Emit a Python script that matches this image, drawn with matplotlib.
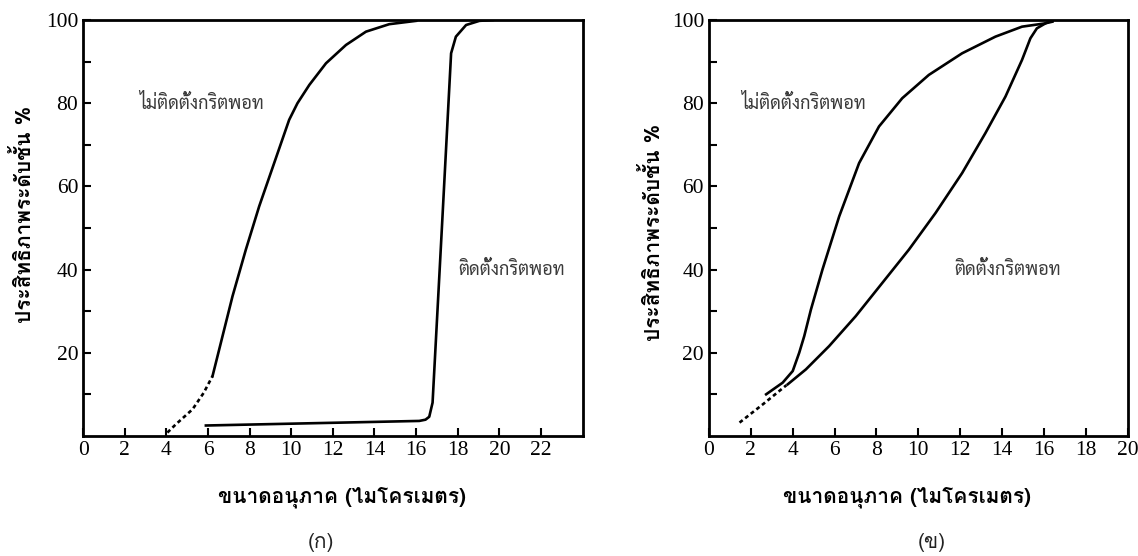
import matplotlib
matplotlib.use("Agg")
import matplotlib.pyplot as plt


# particle size (micrometre) vs grade efficiency (%)
# panel (ก)
a_nogrit_dash_x = [4.05, 4.46, 5.26, 5.8, 6.22]
a_nogrit_dash_y = [0.8, 2.8, 6.4, 10.4, 14.4]
a_nogrit_x = [6.22, 6.62, 7.18, 7.82, 8.46, 9.18, 9.90, 10.30, 10.87, 11.67,
              12.63, 13.59, 14.71, 16.0]
a_nogrit_y = [14.4, 22.4, 33.6, 44.8, 55.2, 65.6, 76.0, 80.0, 84.4, 89.6,
              94.0, 97.2, 99.0, 99.8]
a_grit_x = [5.9, 16.15, 16.45, 16.63, 16.79, 17.25, 17.68, 17.91, 18.4,
            19.04, 19.68]
a_grit_y = [2.5, 3.6, 3.9, 4.6, 8.0, 51.2, 92.0, 96.0, 98.8, 99.8, 100.0]

# panel (ข)
b_dash_x = [1.46, 2.6, 3.7]
b_dash_y = [3.2, 7.7, 12.2]
b_nogrit_x = [2.73, 3.52, 4.0, 4.31, 4.55, 4.87, 5.42, 6.22, 7.17, 8.12,
              9.23, 10.5, 12.09, 13.68, 14.95, 16.06, 16.4]
b_nogrit_y = [10.0, 12.8, 15.6, 20.0, 24.0, 30.4, 40.0, 52.8, 65.6, 74.4,
              81.2, 86.8, 92.0, 96.0, 98.4, 99.2, 99.6]
b_grit_x = [3.76, 4.63, 5.74, 7.01, 8.28, 9.55, 10.82, 12.09, 13.2, 14.16,
            14.95, 15.35, 15.66, 16.14, 16.4]
b_grit_y = [12.4, 16.0, 21.6, 28.8, 36.8, 44.8, 53.6, 63.2, 72.8, 81.6,
            90.4, 95.6, 98.0, 99.4, 99.8]

label_nogrit = "ไม่ติดตั้งกริตพอท"
label_grit = "ติดตั้งกริตพอท"
xlabel = "ขนาดอนุภาค (ไมโครเมตร)"
ylabel = "ประสิทธิภาพระดับชั้น %"

plt.rcParams["font.family"] = ["Liberation Serif", "Loma", "DejaVu Sans"]
thin = ["Sarabun", "Loma", "DejaVu Sans"]
heavy = ["Loma", "Sarabun", "DejaVu Sans"]


def setup(ax, xmax, xticks):
    ax.set_xlim(0, xmax)
    ax.set_ylim(0, 100)
    ax.set_xticks(xticks)
    ax.set_yticks(range(10, 101, 10))
    ax.set_yticklabels(["" if v % 20 else str(v) for v in range(10, 101, 10)])
    ax.tick_params(direction="in", length=6, width=1.5, labelsize=15.5)
    for s in ax.spines.values():
        s.set_linewidth(2)


fig = plt.figure(figsize=(11.38, 5.56), dpi=100)
ax1 = fig.add_axes([0.073, 0.216, 0.439, 0.748])
ax2 = fig.add_axes([0.623, 0.216, 0.368, 0.748])

lw = 1.9
dash = (0, (1.5, 1.2))
ax1.plot(a_nogrit_dash_x, a_nogrit_dash_y, color="black", lw=lw, ls=dash)
ax1.plot(a_nogrit_x, a_nogrit_y, color="black", lw=lw)
ax1.plot(a_grit_x, a_grit_y, color="black", lw=lw)
setup(ax1, 24, range(0, 23, 2))

ax2.plot(b_dash_x, b_dash_y, color="black", lw=lw, ls=dash)
ax2.plot(b_nogrit_x, b_nogrit_y, color="black", lw=lw)
ax2.plot(b_grit_x, b_grit_y, color="black", lw=lw)
setup(ax2, 20, range(0, 21, 2))

txt = dict(family=thin, fontsize=13, color="#3a3a3a", va="center")
ax1.text(2.7, 80, label_nogrit, **txt)
ax1.text(18.0, 40, label_grit, **txt)
ax2.text(1.55, 80, label_nogrit, **txt)
ax2.text(11.7, 40, label_grit, **txt)

W, H = 1138, 556
lab = dict(family=heavy, fontsize=15, fontweight="bold", ha="center", va="center")
fig.text(342 / W, 1 - 497 / H, xlabel, **lab)
fig.text(907 / W, 1 - 497 / H, xlabel, **lab)
fig.text(24 / W, 1 - 214 / H, ylabel, rotation=90, **lab)
fig.text(652 / W, 1 - 232 / H, ylabel, rotation=90, **lab)

cap = dict(family=heavy, fontsize=15, ha="center", va="center", color="#222222")
fig.text(321 / W, 1 - 543 / H, "(ก)", **cap)
fig.text(932 / W, 1 - 543 / H, "(ข)", **cap)

fig.savefig("out.png", dpi=100)
